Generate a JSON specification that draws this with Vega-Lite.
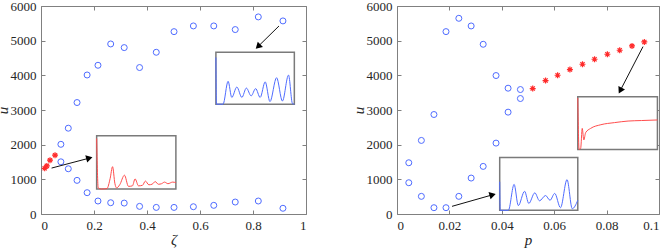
{
  "$schema": "https://vega.github.io/schema/vega-lite/v6.json",
  "padding": {"left": -6, "top": -1, "right": 0, "bottom": 0},
  "spacing": 43,
  "datasets": {
    "Lc": [
      {"z":0.075,"u":2010},{"z":0.075,"u":1505},{"z":0.103,"u":2475},{"z":0.103,"u":1305},
      {"z":0.136,"u":3215},{"z":0.136,"u":970},{"z":0.174,"u":4010},{"z":0.174,"u":615},
      {"z":0.215,"u":4290},{"z":0.215,"u":375},{"z":0.263,"u":4905},{"z":0.263,"u":325},
      {"z":0.314,"u":4800},{"z":0.314,"u":315},{"z":0.372,"u":4225},{"z":0.372,"u":220},
      {"z":0.435,"u":4665},{"z":0.435,"u":190},{"z":0.502,"u":5260},{"z":0.502,"u":190},
      {"z":0.575,"u":5425},{"z":0.575,"u":210},{"z":0.652,"u":5425},{"z":0.652,"u":250},
      {"z":0.733,"u":5320},{"z":0.733,"u":345},{"z":0.820,"u":5685},{"z":0.820,"u":375},
      {"z":0.913,"u":5570},{"z":0.913,"u":165}
    ],
    "Ls": [{"z":0.014,"u":1318},{"z":0.022,"u":1388},{"z":0.034,"u":1552},{"z":0.053,"u":1697}],
    "La": [
      {"id":"a","x":0.040,"y":1325,"x2":0.1824,"y2":1612},
      {"id":"b","x":0.898,"y":5423,"x2":0.819,"y2":4831}
    ],
    "Lb": [
      {"x":0.210,"x2":0.509,"y":720,"y2":2256},
      {"x":0.660,"x2":0.956,"y":3168,"y2":4666}
    ],
    "Li": [
      {"s":"r","x":0.210,"y":2179},{"s":"r","x":0.216,"y":751},{"s":"r","x":0.228,"y":720},{"s":"r","x":0.249,"y":735},
      {"s":"r","x":0.261,"y":1027},{"s":"r","x":0.270,"y":1365},{"s":"r","x":0.279,"y":874},{"s":"r","x":0.285,"y":751},
      {"s":"r","x":0.297,"y":843},{"s":"r","x":0.315,"y":1119},{"s":"r","x":0.330,"y":797},{"s":"r","x":0.345,"y":812},
      {"s":"r","x":0.355,"y":1012},{"s":"r","x":0.368,"y":812},{"s":"r","x":0.383,"y":828},{"s":"r","x":0.394,"y":950},
      {"s":"r","x":0.407,"y":843},{"s":"r","x":0.419,"y":858},{"s":"r","x":0.431,"y":935},{"s":"r","x":0.443,"y":858},
      {"s":"r","x":0.455,"y":874},{"s":"r","x":0.466,"y":920},{"s":"r","x":0.479,"y":874},{"s":"r","x":0.497,"y":920},
      {"s":"r","x":0.509,"y":904},
      {"s":"b","x":0.660,"y":4516},{"s":"b","x":0.662,"y":3168},{"s":"b","x":0.687,"y":3168},{"s":"b","x":0.706,"y":3827},
      {"s":"b","x":0.720,"y":3363},{"s":"b","x":0.739,"y":3662},{"s":"b","x":0.758,"y":3363},{"s":"b","x":0.775,"y":3632},
      {"s":"b","x":0.793,"y":3408},{"s":"b","x":0.810,"y":3617},{"s":"b","x":0.827,"y":3363},{"s":"b","x":0.846,"y":3812},
      {"s":"b","x":0.864,"y":3243},{"s":"b","x":0.889,"y":3932},{"s":"b","x":0.911,"y":3258},{"s":"b","x":0.934,"y":4007},
      {"s":"b","x":0.949,"y":3183},{"s":"b","x":0.956,"y":3168}
    ],
    "Rc": [
      {"p":0.0045,"u":1478},{"p":0.0045,"u":902},{"p":0.0093,"u":2122},{"p":0.0093,"u":509},
      {"p":0.0141,"u":2870},{"p":0.0141,"u":182},{"p":0.0187,"u":5261},{"p":0.0187,"u":182},
      {"p":0.0236,"u":5645},{"p":0.0236,"u":509},{"p":0.0283,"u":5424},{"p":0.0283,"u":1037},
      {"p":0.0329,"u":4896},{"p":0.0329,"u":1373},{"p":0.0378,"u":3994},{"p":0.0378,"u":2045},
      {"p":0.0424,"u":3629},{"p":0.0424,"u":2938},{"p":0.0471,"u":3590},{"p":0.0471,"u":3331}
    ],
    "Rs": [
      {"p":0.0518,"u":3619},{"p":0.0567,"u":3850},{"p":0.0613,"u":4003},{"p":0.0660,"u":4166},
      {"p":0.0708,"u":4320},{"p":0.0754,"u":4464},{"p":0.0803,"u":4608},{"p":0.0850,"u":4723},
      {"p":0.0897,"u":4848},{"p":0.0944,"u":4963}
    ],
    "Ra": [
      {"id":"a","x":0.0210,"y":221,"x2":0.0365,"y2":554},
      {"id":"b","x":0.0939,"y":4829,"x2":0.0852,"y2":3559}
    ],
    "Rb": [
      {"x":0.0392,"x2":0.0690,"y":106,"y2":1632},
      {"x":0.0690,"x2":0.0994,"y":1862,"y2":3379}
    ],
    "Ri": [
      {"s":"b","x":0.0392,"y":930},{"s":"b","x":0.0394,"y":106},{"s":"b","x":0.0425,"y":106},{"s":"b","x":0.0447,"y":854},
      {"s":"b","x":0.0463,"y":243},{"s":"b","x":0.0487,"y":655},{"s":"b","x":0.0503,"y":304},{"s":"b","x":0.0526,"y":610},
      {"s":"b","x":0.0544,"y":381},{"s":"b","x":0.0567,"y":533},{"s":"b","x":0.0584,"y":396},{"s":"b","x":0.0602,"y":594},
      {"s":"b","x":0.0624,"y":182},{"s":"b","x":0.0649,"y":991},{"s":"b","x":0.0669,"y":152},{"s":"b","x":0.0690,"y":396},
      {"s":"r","x":0.0690,"y":3349},{"s":"r","x":0.0695,"y":1862},{"s":"r","x":0.0701,"y":1892},{"s":"r","x":0.0707,"y":2469},
      {"s":"r","x":0.0713,"y":2135},{"s":"r","x":0.0720,"y":2347},{"s":"r","x":0.0739,"y":2469},{"s":"r","x":0.0778,"y":2575},
      {"s":"r","x":0.0830,"y":2636},{"s":"r","x":0.0882,"y":2681},{"s":"r","x":0.0933,"y":2696},{"s":"r","x":0.0994,"y":2712}
    ]
  },
  "hconcat": [
    {
      "width": 265, "height": 208,
      "resolve": {"axis": {"x": "independent", "y": "independent"}},
      "layer": [
        {
          "data": {"name": "Lc"},
          "mark": {"type": "point", "shape": "circle", "filled": false, "stroke": "#4f6cff", "strokeWidth": 1, "size": 36, "opacity": 1},
          "encoding": {
            "x": {"field": "z", "type": "quantitative", "scale": {"domain": [0, 1], "nice": false},
                  "axis": {"orient": "bottom", "title": "ζ", "values": [0,0.2,0.4,0.6,0.8,1], "format": "~g", "titlePadding": 0}},
            "y": {"field": "u", "type": "quantitative", "scale": {"domain": [0, 6000], "nice": false},
                  "axis": {"orient": "left", "title": "u", "values": [0,1000,2000,3000,4000,5000,6000], "format": "d", "titlePadding": 0}}
          }
        },
        {
          "data": {"name": "Ls"},
          "mark": {"type": "point", "shape": "M-1,0L1,0M0,-1L0,1M-0.7,-0.7L0.7,0.7M-0.7,0.7L0.7,-0.7", "filled": false, "stroke": "#ff2b2b", "strokeWidth": 1.2, "size": 36, "opacity": 1},
          "encoding": {
            "x": {"field": "z", "type": "quantitative", "scale": {"domain": [0, 1], "nice": false},
                  "axis": {"orient": "top", "title": null, "labels": false, "values": [0,0.2,0.4,0.6,0.8,1]}},
            "y": {"field": "u", "type": "quantitative", "scale": {"domain": [0, 6000], "nice": false},
                  "axis": {"orient": "right", "title": null, "labels": false, "values": [0,1000,2000,3000,4000,5000,6000]}}
          }
        },
        {
          "data": {"name": "La"},
          "mark": {"type": "rule", "color": "#111", "strokeWidth": 1},
          "encoding": {
            "x": {"field": "x", "type": "quantitative", "axis": null},
            "y": {"field": "y", "type": "quantitative", "axis": null},
            "x2": {"field": "x2"}, "y2": {"field": "y2"}
          }
        },
        {
          "data": {"name": "La"},
          "transform": [{"filter": "datum.id == 'a'"}],
          "mark": {"type": "point", "shape": "triangle-right", "filled": true, "color": "#000", "size": 55, "angle": 345, "opacity": 1},
          "encoding": {
            "x": {"field": "x2", "type": "quantitative", "axis": null},
            "y": {"field": "y2", "type": "quantitative", "axis": null}
          }
        },
        {
          "data": {"name": "La"},
          "transform": [{"filter": "datum.id == 'b'"}],
          "mark": {"type": "point", "shape": "triangle-right", "filled": true, "color": "#000", "size": 55, "angle": 135.6, "opacity": 1},
          "encoding": {
            "x": {"field": "x2", "type": "quantitative", "axis": null},
            "y": {"field": "y2", "type": "quantitative", "axis": null}
          }
        },
        {
          "data": {"name": "Lb"},
          "mark": {"type": "rect", "fill": "#ffffff", "stroke": "#7a7a7a", "strokeWidth": 1.5},
          "encoding": {
            "x": {"field": "x", "type": "quantitative", "axis": null},
            "x2": {"field": "x2"},
            "y": {"field": "y", "type": "quantitative", "axis": null},
            "y2": {"field": "y2"}
          }
        },
        {
          "data": {"name": "Li"},
          "mark": {"type": "line", "strokeWidth": 1, "interpolate": "monotone"},
          "encoding": {
            "x": {"field": "x", "type": "quantitative", "axis": null},
            "y": {"field": "y", "type": "quantitative", "axis": null},
            "color": {"field": "s", "type": "nominal", "scale": {"domain": ["r", "b"], "range": ["#ff4d4d", "#4f6cff"]}, "legend": null}
          }
        }
      ]
    },
    {
      "width": 262, "height": 208,
      "resolve": {"axis": {"x": "independent", "y": "independent"}},
      "layer": [
        {
          "data": {"name": "Rc"},
          "mark": {"type": "point", "shape": "circle", "filled": false, "stroke": "#4f6cff", "strokeWidth": 1, "size": 36, "opacity": 1},
          "encoding": {
            "x": {"field": "p", "type": "quantitative", "scale": {"domain": [0, 0.1], "nice": false},
                  "axis": {"orient": "bottom", "title": "p", "values": [0,0.02,0.04,0.06,0.08,0.1], "format": "~g", "titlePadding": 0}},
            "y": {"field": "u", "type": "quantitative", "scale": {"domain": [0, 6000], "nice": false},
                  "axis": {"orient": "left", "title": "u", "values": [0,1000,2000,3000,4000,5000,6000], "format": "d", "titlePadding": 0}}
          }
        },
        {
          "data": {"name": "Rs"},
          "mark": {"type": "point", "shape": "M-1,0L1,0M0,-1L0,1M-0.7,-0.7L0.7,0.7M-0.7,0.7L0.7,-0.7", "filled": false, "stroke": "#ff2b2b", "strokeWidth": 1.2, "size": 36, "opacity": 1},
          "encoding": {
            "x": {"field": "p", "type": "quantitative", "scale": {"domain": [0, 0.1], "nice": false},
                  "axis": {"orient": "top", "title": null, "labels": false, "values": [0,0.02,0.04,0.06,0.08,0.1]}},
            "y": {"field": "u", "type": "quantitative", "scale": {"domain": [0, 6000], "nice": false},
                  "axis": {"orient": "right", "title": null, "labels": false, "values": [0,1000,2000,3000,4000,5000,6000]}}
          }
        },
        {
          "data": {"name": "Ra"},
          "mark": {"type": "rule", "color": "#111", "strokeWidth": 1},
          "encoding": {
            "x": {"field": "x", "type": "quantitative", "axis": null},
            "y": {"field": "y", "type": "quantitative", "axis": null},
            "x2": {"field": "x2"}, "y2": {"field": "y2"}
          }
        },
        {
          "data": {"name": "Ra"},
          "transform": [{"filter": "datum.id == 'a'"}],
          "mark": {"type": "point", "shape": "triangle-right", "filled": true, "color": "#000", "size": 55, "angle": 344, "opacity": 1},
          "encoding": {
            "x": {"field": "x2", "type": "quantitative", "axis": null},
            "y": {"field": "y2", "type": "quantitative", "axis": null}
          }
        },
        {
          "data": {"name": "Ra"},
          "transform": [{"filter": "datum.id == 'b'"}],
          "mark": {"type": "point", "shape": "triangle-right", "filled": true, "color": "#000", "size": 55, "angle": 117.3, "opacity": 1},
          "encoding": {
            "x": {"field": "x2", "type": "quantitative", "axis": null},
            "y": {"field": "y2", "type": "quantitative", "axis": null}
          }
        },
        {
          "data": {"name": "Rb"},
          "mark": {"type": "rect", "fill": "#ffffff", "stroke": "#7a7a7a", "strokeWidth": 1.5},
          "encoding": {
            "x": {"field": "x", "type": "quantitative", "axis": null},
            "x2": {"field": "x2"},
            "y": {"field": "y", "type": "quantitative", "axis": null},
            "y2": {"field": "y2"}
          }
        },
        {
          "data": {"name": "Ri"},
          "mark": {"type": "line", "strokeWidth": 1, "interpolate": "monotone"},
          "encoding": {
            "x": {"field": "x", "type": "quantitative", "axis": null},
            "y": {"field": "y", "type": "quantitative", "axis": null},
            "color": {"field": "s", "type": "nominal", "scale": {"domain": ["r", "b"], "range": ["#ff4d4d", "#4f6cff"]}, "legend": null}
          }
        }
      ]
    }
  ],
  "resolve": {"scale": {"color": "independent"}},
  "config": {
    "font": "Liberation Serif",
    "background": "#ffffff",
    "view": {"stroke": "#808080", "strokeWidth": 1},
    "axis": {
      "grid": false, "domain": false,
      "tickColor": "#808080", "tickSize": -4, "tickWidth": 1,
      "labelFont": "Liberation Serif", "labelFontSize": 13, "labelColor": "#262626", "labelPadding": 9,
      "titleFont": "Liberation Serif", "titleFontSize": 15, "titleFontStyle": "italic", "titleFontWeight": "normal", "titleColor": "#262626"
    }
  }
}
